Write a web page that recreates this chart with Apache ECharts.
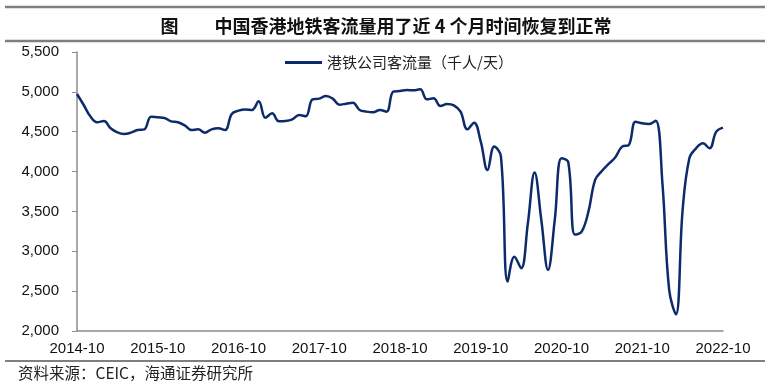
<!DOCTYPE html>
<html>
<head>
<meta charset="utf-8">
<script src="https://cdn.jsdelivr.net/npm/echarts@6/dist/echarts.min.js"></script>
<style>html,body{margin:0;padding:0;background:#fff}#c{width:772px;height:389px}</style>
</head>
<body>
<div id="c"></div>
<script>
const titleText = '图　　中国香港地铁客流量用了近 4 个月时间恢复到正常';
const sourceText = '资料来源：CEIC，海通证券研究所';
const seriesName = '港铁公司客流量（千人/天）';

// monthly categories 2014-10 .. 2022-10
const startYear = 2014, startMonth = 10, monthCount = 97;
const months = [];
for (let i = 0; i < monthCount; i++) {
  const t = startMonth - 1 + i;
  const y = startYear + Math.floor(t / 12);
  const m = (t % 12) + 1;
  months.push(y + '-' + (m < 10 ? '0' + m : m));
}

const ridership = [
  4973, 4835, 4690, 4618, 4635, 4543, 4492, 4471, 4488, 4522, 4530, 4689,
  4681, 4672, 4630, 4618, 4580, 4522, 4530, 4488, 4530, 4543, 4522, 4722,
  4764, 4780, 4773, 4881, 4676, 4731, 4630, 4634, 4655, 4710, 4695, 4906,
  4915, 4948, 4915, 4839, 4852, 4864, 4773, 4752, 4743, 4773, 4752, 5003,
  5011, 5023, 5020, 5032, 4906, 4919, 4823, 4848, 4831, 4752, 4530, 4614,
  4375, 4020, 4313, 4187, 2620, 2933, 2787, 3351, 3987, 3393, 2766, 3393,
  4166, 4120, 3210, 3247, 3497, 3895, 4007, 4095, 4179, 4313, 4334, 4626,
  4605, 4597, 4639, 3850, 2515, 2210, 3518, 4166, 4292, 4354, 4292, 4501,
  4551
];

const yMin = 2000, yMax = 5500, yStep = 500;

const chart = echarts.init(document.getElementById('c'), null, {renderer: 'canvas'});
chart.setOption({
  backgroundColor: '#ffffff',
  animation: false,
  title: {
    text: titleText,
    left: 'center',
    top: 12,
    textStyle: {fontSize: 18, fontWeight: 'bold', color: '#111', fontFamily: 'Noto Sans CJK SC'}
  },
  legend: {
    data: [seriesName],
    left: 280,
    top: 50,
    itemWidth: 37,
    itemHeight: 3,
    itemGap: 5,
    icon: 'rect',
    textStyle: {fontSize: 15, color: '#222', fontFamily: 'Noto Sans CJK SC'}
  },
  grid: {left: 77, right: 49, top: 52, bottom: 58, containLabel: false},
  xAxis: {
    type: 'category',
    data: months,
    boundaryGap: false,
    axisLine: {lineStyle: {color: '#8c8c8c', width: 1.5}},
    axisTick: {show: false},
    axisLabel: {
      interval: 11,
      margin: 10,
      fontSize: 15,
      color: '#111',
      fontFamily: 'Liberation Sans',
      showMaxLabel: true
    },
    splitLine: {show: false}
  },
  yAxis: {
    type: 'value',
    min: yMin,
    max: yMax,
    interval: yStep,
    axisLine: {show: true, lineStyle: {color: '#8c8c8c', width: 1.5}},
    axisTick: {show: true, length: 5, lineStyle: {color: '#8c8c8c'}},
    axisLabel: {
      margin: 18,
      fontSize: 15,
      color: '#111',
      fontFamily: 'Liberation Sans',
      formatter: v => v.toLocaleString('en-US')
    },
    splitLine: {show: false}
  },
  series: [{
    name: seriesName,
    type: 'line',
    data: ridership,
    smooth: 0.4,
    showSymbol: false,
    symbol: 'none',
    lineStyle: {color: '#0d2b6b', width: 2.5},
    itemStyle: {color: '#0d2b6b'}
  }],
  graphic: [
    {type: 'line', shape: {x1: 5, y1: 7, x2: 765, y2: 7}, style: {stroke: '#7f7f7f', lineWidth: 2.5}},
    {type: 'line', shape: {x1: 5, y1: 41, x2: 765, y2: 41}, style: {stroke: '#7f7f7f', lineWidth: 2.5}},
    {type: 'line', shape: {x1: 5, y1: 361, x2: 765, y2: 361}, style: {stroke: '#7f7f7f', lineWidth: 2}},
    {type: 'text', left: 18, top: 365, style: {text: sourceText, fontSize: 15.5, fill: '#222', fontFamily: 'Noto Sans CJK SC'}}
  ]
});
</script>
</body>
</html>
